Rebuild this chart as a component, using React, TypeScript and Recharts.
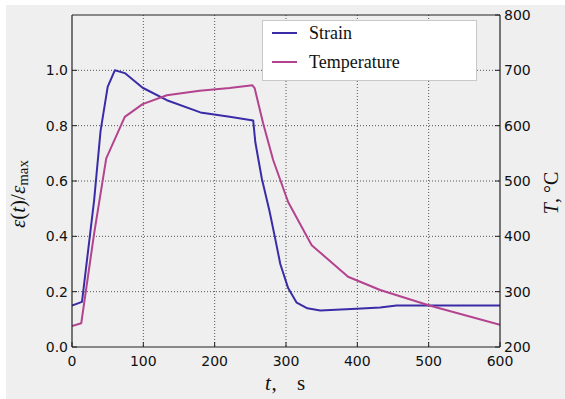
import React from "react";
import {
  ComposedChart,
  Line,
  XAxis,
  YAxis,
  CartesianGrid,
  Legend,
} from "recharts";

// ---- data ----
const strainTime = [0, 14, 31, 40, 50, 60, 74, 99, 133, 180, 221, 254, 257, 266, 277, 285, 292, 303, 315, 330, 348, 399, 432, 455, 600];
const strainValue = [0.15, 0.163, 0.53, 0.78, 0.94, 1.0, 0.99, 0.937, 0.892, 0.848, 0.832, 0.819, 0.74, 0.61, 0.49, 0.39, 0.3, 0.213, 0.16, 0.14, 0.132, 0.138, 0.143, 0.15, 0.15];

const tempTime = [0, 13, 31, 48, 74, 99, 133, 179, 221, 253, 256, 268, 282, 303, 336, 387, 432, 501, 600];
const tempValue = [238, 243, 405, 541, 616, 639, 655, 663, 668, 673, 668, 604, 538, 462, 384, 327, 303, 275, 240];

const xTicks = [0, 100, 200, 300, 400, 500, 600];
const xGridTicks = [100, 200, 300, 400, 500];
const strainTicks = [0, 0.2, 0.4, 0.6, 0.8, 1.0];
const strainGridTicks = [0.2, 0.4, 0.6, 0.8, 1.0];
const tempTicks = [200, 300, 400, 500, 600, 700, 800];

const seriesNames = ["Strain", "Temperature"];
const seriesColors = ["#3a2ca6", "#b4438f"];

const strainData = strainTime.map((t, i) => ({ t, v: strainValue[i] }));
const tempData = tempTime.map((t, i) => ({ t, v: tempValue[i] }));

const SPINE = "#222";
const TICK_FONT = "'DejaVu Sans', sans-serif";
const SERIF = "'Liberation Serif', 'DejaVu Serif', serif";

const BottomTick = (props: any) => {
  const { x, y, payload } = props;
  return (
    <g>
      <line x1={x} y1={y} x2={x} y2={y - 5} stroke={SPINE} strokeWidth={1} />
      <text x={x} y={y + 18.5} textAnchor="middle" fontFamily={TICK_FONT} fontSize={14} fill="#111">
        {payload.value}
      </text>
    </g>
  );
};

const TopTick = (props: any) => {
  const { x, y } = props;
  return <line x1={x} y1={y} x2={x} y2={y + 5} stroke={SPINE} strokeWidth={1} />;
};

const LeftTick = (props: any) => {
  const { x, y, payload } = props;
  return (
    <g>
      <line x1={x} y1={y} x2={x + 5} y2={y} stroke={SPINE} strokeWidth={1} />
      <text x={x - 4} y={y + 5} textAnchor="end" fontFamily={TICK_FONT} fontSize={14} fill="#111">
        {Number(payload.value).toFixed(1)}
      </text>
    </g>
  );
};

const RightTick = (props: any) => {
  const { x, y, payload } = props;
  return (
    <g>
      <line x1={x} y1={y} x2={x - 5} y2={y} stroke={SPINE} strokeWidth={1} />
      <text x={x + 4} y={y + 5} textAnchor="start" fontFamily={TICK_FONT} fontSize={14} fill="#111">
        {payload.value}
      </text>
    </g>
  );
};

const XLabel = (props: any) => {
  const { viewBox } = props;
  const cx = viewBox.x + viewBox.width / 2;
  const cy = viewBox.y + 43;
  return (
    <g fontFamily={SERIF} fontSize={21} fill="#111">
      <text x={cx - 18} y={cy} textAnchor="middle" fontStyle="italic">t</text>
      <text x={cx - 12} y={cy} textAnchor="middle">,</text>
      <text x={cx + 15} y={cy} textAnchor="middle">s</text>
    </g>
  );
};

const LeftLabel = (props: any) => {
  const { viewBox } = props;
  const cx = viewBox.x + 12;
  const cy = viewBox.y + viewBox.height / 2 + 13;
  return (
    <text
      x={cx}
      y={cy}
      transform={`rotate(-90, ${cx}, ${cy})`}
      textAnchor="middle"
      fontFamily={SERIF}
      fontSize={21}
      fill="#111"
      dominantBaseline="central"
    >
      <tspan fontStyle="italic">ε</tspan>
      <tspan>(</tspan>
      <tspan fontStyle="italic">t</tspan>
      <tspan>)/</tspan>
      <tspan fontStyle="italic">ε</tspan>
      <tspan fontSize={15} dy={5}>max</tspan>
    </text>
  );
};

const RightLabel = (props: any) => {
  const { viewBox } = props;
  const cx = viewBox.x + 51;
  const cy = viewBox.y + viewBox.height / 2 + 12;
  return (
    <text
      x={cx}
      y={cy}
      transform={`rotate(-90, ${cx}, ${cy})`}
      textAnchor="middle"
      fontFamily={SERIF}
      fontSize={20}
      fill="#111"
      dominantBaseline="central"
    >
      <tspan fontStyle="italic">T</tspan>
      <tspan>{", °C"}</tspan>
    </text>
  );
};

const LegendBox = () => (
  <div
    style={{
      width: 215,
      height: 61,
      boxSizing: "border-box",
      background: "#ffffff",
      border: "1px solid #c8c8c8",
      position: "relative",
      fontFamily: SERIF,
      fontSize: 18,
      color: "#111",
    }}
  >
    {seriesNames.map((name, i) => (
      <div
        key={name}
        style={{
          position: "absolute",
          left: 0,
          top: i === 0 ? 0 : 29,
          height: 24,
          width: 213,
          display: "flex",
          alignItems: "center",
        }}
      >
        <div style={{ marginLeft: 9, width: 25, height: 2, background: seriesColors[i] }} />
        <span style={{ marginLeft: 12, lineHeight: "24px", fontFamily: SERIF }}>{name}</span>
      </div>
    ))}
  </div>
);

export default function App() {
  return (
    <div
      style={{
        position: "absolute",
        left: 6,
        top: 5,
        width: 559,
        height: 394,
        background: "#efefef",
      }}
    >
      <ComposedChart width={559} height={394} margin={{ top: 9, right: 0, bottom: 0, left: 0 }}>
        <CartesianGrid
          xAxisId="bottom"
          yAxisId="left"
          verticalValues={xGridTicks}
          horizontalValues={strainGridTicks}
          stroke="#555"
          strokeDasharray="1 2"
          strokeWidth={1}
        />
        <XAxis
          xAxisId="bottom"
          dataKey="t"
          type="number"
          domain={[0, 600]}
          ticks={xTicks}
          allowDataOverflow
          height={52}
          tickSize={0}
          tickMargin={0}
          tickLine={false}
          tick={BottomTick}
          axisLine={{ stroke: SPINE, strokeWidth: 1.2 }}
          label={<XLabel />}
        />
        <XAxis
          xAxisId="top"
          orientation="top"
          dataKey="t"
          type="number"
          domain={[0, 600]}
          ticks={xTicks}
          height={1}
          tickSize={0}
          tickMargin={0}
          tickLine={false}
          tick={TopTick}
          axisLine={{ stroke: SPINE, strokeWidth: 1.2 }}
        />
        <YAxis
          yAxisId="left"
          type="number"
          domain={[0, 1.2]}
          ticks={strainTicks}
          allowDataOverflow
          width={66}
          tickSize={0}
          tickMargin={0}
          tickLine={false}
          tick={LeftTick}
          axisLine={{ stroke: SPINE, strokeWidth: 1.2 }}
          label={<LeftLabel />}
        />
        <YAxis
          yAxisId="right"
          orientation="right"
          type="number"
          domain={[200, 800]}
          ticks={tempTicks}
          allowDataOverflow
          width={65}
          tickSize={0}
          tickMargin={0}
          tickLine={false}
          tick={RightTick}
          axisLine={{ stroke: SPINE, strokeWidth: 1.2 }}
          label={<RightLabel />}
        />
        <Line
          xAxisId="bottom"
          yAxisId="left"
          data={strainData}
          dataKey="v"
          name={seriesNames[0]}
          stroke={seriesColors[0]}
          strokeWidth={2}
          dot={false}
          activeDot={false}
          isAnimationActive={false}
          strokeLinejoin="round"
        />
        <Line
          xAxisId="bottom"
          yAxisId="right"
          data={tempData}
          dataKey="v"
          name={seriesNames[1]}
          stroke={seriesColors[1]}
          strokeWidth={2}
          dot={false}
          activeDot={false}
          isAnimationActive={false}
          strokeLinejoin="round"
        />
        <Legend
          layout="vertical"
          align="center"
          verticalAlign="middle"
          wrapperStyle={{ left: 256, top: 15, width: 215, height: 61 }}
          content={<LegendBox />}
        />
      </ComposedChart>
    </div>
  );
}
